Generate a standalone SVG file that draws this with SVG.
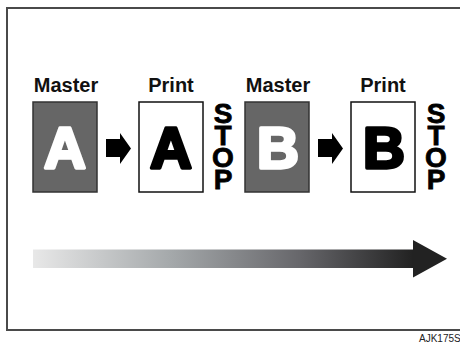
<svg xmlns="http://www.w3.org/2000/svg" width="460" height="343" viewBox="0 0 460 343">
  <style>
    .lbl { font-family: "Liberation Sans", Arial, sans-serif; font-weight: bold; font-size: 20px; fill: #111; text-anchor: middle; }
    .big { font-family: "Liberation Sans", Arial, sans-serif; font-weight: bold; font-size: 58px; text-anchor: middle; stroke-width: 3.4; stroke-linejoin: round; }
    .stop { font-family: "Liberation Sans", Arial, sans-serif; font-weight: bold; font-size: 28px; fill: #000; stroke: #000; stroke-width: 0.8; text-anchor: middle; }
    .master { fill: #666; stroke: #333; stroke-width: 1.5; }
    .print { fill: #fff; stroke: #111; stroke-width: 1.5; }
    .wl { fill: #fff; stroke: #fff; }
    .bl { fill: #000; stroke: #000; }
    .code { font-family: "Liberation Sans", Arial, sans-serif; font-size: 10px; fill: #222; }
  </style>
  <defs>
    <linearGradient id="grad" x1="33" y1="0" x2="413" y2="0" gradientUnits="userSpaceOnUse">
      <stop offset="0" stop-color="#e8e8e8"/>
      <stop offset="0.36" stop-color="#a5a9ab"/>
      <stop offset="0.7" stop-color="#67676b"/>
      <stop offset="1" stop-color="#222"/>
    </linearGradient>
  </defs>
  <rect x="7" y="8" width="470" height="322" fill="#fff" stroke="#4a4a4a" stroke-width="2"/>

  <g id="masterA">
    <text class="lbl" x="66" y="92">Master</text>
    <rect class="master" x="33" y="102" width="64" height="90"/>
    <text class="big wl" x="65" y="167.5">A</text>
  </g>
  <g id="printA">
    <text class="lbl" x="171" y="92">Print</text>
    <rect class="print" x="139" y="102" width="64" height="90"/>
    <text class="big bl" x="171" y="167.5">A</text>
  </g>
  <g id="stop1">
    <text class="stop" x="223" y="123"><tspan x="223">S</tspan><tspan x="223" dy="22">T</tspan><tspan x="223" dy="22">O</tspan><tspan x="223" dy="22">P</tspan></text>
  </g>
  <g id="masterB">
    <text class="lbl" x="278" y="92">Master</text>
    <rect class="master" x="245" y="102" width="64" height="90"/>
    <text class="big wl" x="278" y="167.5">B</text>
  </g>
  <g id="printB">
    <text class="lbl" x="383" y="92">Print</text>
    <rect class="print" x="351" y="102" width="64" height="90"/>
    <text class="big bl" x="384" y="167.5">B</text>
  </g>
  <g id="stop2">
    <text class="stop" x="436" y="123"><tspan x="436">S</tspan><tspan x="436" dy="22">T</tspan><tspan x="436" dy="22">O</tspan><tspan x="436" dy="22">P</tspan></text>
  </g>

  <g id="connectors">
    <polygon points="106,139 120,139 120,133 131,148.5 120,164 120,157 106,157" fill="#000"/>
    <polygon points="318,139 332,139 332,133 343,148.5 332,164 332,157 318,157" fill="#000"/>
  </g>

  <g id="timeline">
    <rect x="33" y="249" width="381" height="19" fill="url(#grad)"/>
    <line x1="33" y1="249.5" x2="413" y2="249.5" stroke="#fff" stroke-opacity="0.5" stroke-width="1"/>
    <polygon points="413,240 447,258.7 413,277.5" fill="#222"/>
  </g>

  <text class="code" x="419" y="342">AJK175S</text>
</svg>
